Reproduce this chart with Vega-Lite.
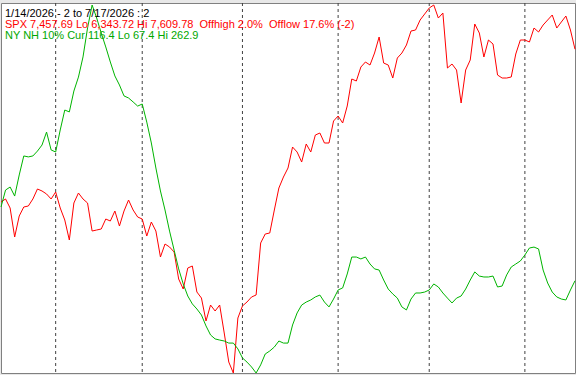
{
  "$schema": "https://vega.github.io/schema/vega-lite/v6.json",
  "width": 574,
  "height": 370,
  "autosize": "none",
  "padding": {"left": 1, "top": 3, "right": 1, "bottom": 2},
  "background": "#e8e8e8",
  "config": {"view": {"fill": "#ffffff", "stroke": "#808080", "strokeWidth": 1}},
  "data": {"values": [
    {"d":0,"spx":6932.0,"nh":155.6},{"d":1,"spx":6942.4,"nh":164.6},{"d":2,"spx":6911.4,"nh":166.2},{"d":3,"spx":6811.6,"nh":161.4},{"d":4,"spx":6883.9,"nh":172.6},{"d":5,"spx":6914.8,"nh":182.7},{"d":6,"spx":6918.3,"nh":182.2},{"d":7,"spx":6942.4,"nh":182.7},{"d":8,"spx":6976.8,"nh":185.3},{"d":9,"spx":6969.9,"nh":188.5},
    {"d":10,"spx":6959.6,"nh":195.4},{"d":11,"spx":6942.4,"nh":185.9},{"d":12,"spx":6966.4,"nh":184.8},{"d":13,"spx":6911.4,"nh":196.5},{"d":14,"spx":6870.1,"nh":207.1},{"d":15,"spx":6801.3,"nh":206.1},{"d":16,"spx":6928.6,"nh":217.2},{"d":17,"spx":6963.0,"nh":224.6},{"d":18,"spx":6942.4,"nh":235.3},{"d":19,"spx":6928.6,"nh":250.7},
    {"d":20,"spx":6832.2,"nh":262.9},{"d":21,"spx":6835.7,"nh":256.0},{"d":22,"spx":6839.1,"nh":248.0},{"d":23,"spx":6873.5,"nh":240.6},{"d":24,"spx":6866.6,"nh":232.6},{"d":25,"spx":6901.0,"nh":225.2},{"d":26,"spx":6849.4,"nh":220.4},{"d":27,"spx":6901.0,"nh":214.6},{"d":28,"spx":6938.9,"nh":213.5},{"d":29,"spx":6904.5,"nh":211.4},
    {"d":30,"spx":6880.4,"nh":209.2},{"d":31,"spx":6873.5,"nh":210.3},{"d":32,"spx":6815.0,"nh":200.7},{"d":33,"spx":6863.2,"nh":189.6},{"d":34,"spx":6832.2,"nh":176.3},{"d":35,"spx":6742.8,"nh":164.1},{"d":36,"spx":6787.5,"nh":154.0},{"d":37,"spx":6777.2,"nh":142.8},{"d":38,"spx":6760.0,"nh":132.7},{"d":39,"spx":6667.1,"nh":122.7},
    {"d":40,"spx":6632.7,"nh":114.7},{"d":41,"spx":6704.9,"nh":108.3},{"d":42,"spx":6711.8,"nh":104.1},{"d":43,"spx":6622.4,"nh":101.4},{"d":44,"spx":6601.7,"nh":98.2},{"d":45,"spx":6522.6,"nh":92.4},{"d":46,"spx":6577.6,"nh":87.6},{"d":47,"spx":6557.0,"nh":85.5},{"d":48,"spx":6577.6,"nh":84.9},{"d":49,"spx":6481.3,"nh":84.4},
    {"d":50,"spx":6381.5,"nh":83.3},{"d":51,"spx":6343.72,"nh":83.3},{"d":52,"spx":6532.9,"nh":80.2},{"d":53,"spx":6574.2,"nh":75.4},{"d":54,"spx":6588.0,"nh":73.2},{"d":55,"spx":6605.2,"nh":70.6},{"d":56,"spx":6612.1,"nh":67.4},{"d":57,"spx":6791.0,"nh":71.7},{"d":58,"spx":6821.9,"nh":77.5},{"d":59,"spx":6825.4,"nh":79.1},
    {"d":60,"spx":6904.5,"nh":81.2},{"d":61,"spx":6980.2,"nh":84.4},{"d":62,"spx":7018.0,"nh":83.3},{"d":63,"spx":7049.0,"nh":83.3},{"d":64,"spx":7121.2,"nh":92.9},{"d":65,"spx":7104.0,"nh":99.3},{"d":66,"spx":7069.6,"nh":103.5},{"d":67,"spx":7131.6,"nh":105.1},{"d":68,"spx":7104.0,"nh":106.2},{"d":69,"spx":7162.5,"nh":107.8},
    {"d":70,"spx":7169.4,"nh":108.8},{"d":71,"spx":7135.0,"nh":105.1},{"d":72,"spx":7135.0,"nh":102.5},{"d":73,"spx":7210.7,"nh":106.7},{"d":74,"spx":7227.9,"nh":111.5},{"d":75,"spx":7203.8,"nh":112.6},{"d":76,"spx":7262.3,"nh":120.0},{"d":77,"spx":7355.2,"nh":129.0},{"d":78,"spx":7348.3,"nh":129.0},{"d":79,"spx":7396.5,"nh":128.0},
    {"d":80,"spx":7413.7,"nh":129.0},{"d":81,"spx":7403.3,"nh":125.3},{"d":82,"spx":7444.6,"nh":122.7},{"d":83,"spx":7499.7,"nh":122.1},{"d":84,"spx":7410.2,"nh":116.8},{"d":85,"spx":7403.3,"nh":112.0},{"d":86,"spx":7358.6,"nh":109.4},{"d":87,"spx":7427.4,"nh":107.2},{"d":88,"spx":7444.6,"nh":102.5},{"d":89,"spx":7472.2,"nh":100.9},
    {"d":90,"spx":7520.3,"nh":106.7},{"d":91,"spx":7523.8,"nh":109.9},{"d":92,"spx":7558.2,"nh":109.9},{"d":93,"spx":7578.8,"nh":110.4},{"d":94,"spx":7599.4,"nh":111.5},{"d":95,"spx":7609.78,"nh":114.7},{"d":96,"spx":7565.0,"nh":113.1},{"d":97,"spx":7582.2,"nh":109.9},{"d":98,"spx":7393.0,"nh":107.2},{"d":99,"spx":7406.8,"nh":104.6},
    {"d":100,"spx":7386.1,"nh":107.2},{"d":101,"spx":7272.6,"nh":108.3},{"d":102,"spx":7386.1,"nh":112.0},{"d":103,"spx":7420.5,"nh":116.8},{"d":104,"spx":7544.4,"nh":121.1},{"d":105,"spx":7513.4,"nh":118.9},{"d":106,"spx":7430.9,"nh":118.4},{"d":107,"spx":7489.4,"nh":118.4},{"d":108,"spx":7475.6,"nh":118.9},{"d":109,"spx":7368.9,"nh":113.1},
    {"d":110,"spx":7358.6,"nh":113.6},{"d":111,"spx":7358.6,"nh":119.5},{"d":112,"spx":7362.1,"nh":123.7},{"d":113,"spx":7441.2,"nh":125.3},{"d":114,"spx":7489.4,"nh":126.9},{"d":115,"spx":7489.4,"nh":130.1},{"d":116,"spx":7482.5,"nh":133.8},{"d":117,"spx":7530.6,"nh":134.3},{"d":118,"spx":7516.9,"nh":133.3},{"d":119,"spx":7541.0,"nh":122.1},
    {"d":120,"spx":7558.2,"nh":115.2},{"d":121,"spx":7575.4,"nh":110.4},{"d":122,"spx":7530.6,"nh":107.8},{"d":123,"spx":7551.3,"nh":106.7},{"d":124,"spx":7571.9,"nh":106.2},{"d":125,"spx":7523.8,"nh":111.5},{"d":126,"spx":7457.69,"nh":116.4}
  ]},
  "layer": [
    {
      "data": {"values": [{"m": 12}, {"m": 31}, {"m": 53}, {"m": 74}, {"m": 94}, {"m": 115}]},
      "mark": {"type": "rule", "color": "#404040", "strokeWidth": 1, "strokeDash": [3, 3]},
      "encoding": {
        "x": {"field": "m", "type": "quantitative", "scale": {"domain": [0, 126], "nice": false, "zero": false}, "axis": null}
      }
    },
    {
      "mark": {"type": "line", "color": "#ff0000", "strokeWidth": 1, "clip": false},
      "encoding": {
        "x": {"field": "d", "type": "quantitative", "scale": {"domain": [0, 126], "nice": false, "zero": false}, "axis": null},
        "y": {"field": "spx", "type": "quantitative", "scale": {"domain": [6343.72, 7616.7], "nice": false, "zero": false}, "axis": null}
      }
    },
    {
      "mark": {"type": "line", "color": "#00b400", "strokeWidth": 1, "clip": false},
      "encoding": {
        "x": {"field": "d", "type": "quantitative", "scale": {"domain": [0, 126], "nice": false, "zero": false}, "axis": null},
        "y": {"field": "nh", "type": "quantitative", "scale": {"domain": [67.4, 263.96], "nice": false, "zero": false}, "axis": null}
      }
    },
    {
      "data": {"values": [
        {"row": 1, "label": "1/14/2026 - 2 to 7/17/2026 : 2", "c": "#000000"},
        {"row": 2, "label": "SPX 7,457.69 Lo 6,343.72 Hi 7,609.78 \u00a0Offhigh 2.0% \u00a0Offlow 17.6% (-2)", "c": "#ff0000"},
        {"row": 3, "label": "NY NH 10% Cur 116.4 Lo 67.4 Hi 262.9", "c": "#00a800"}
      ]},
      "mark": {"type": "text", "align": "left", "baseline": "alphabetic", "font": "Liberation Sans", "fontSize": 11, "x": 4},
      "encoding": {
        "y": {"field": "row", "type": "ordinal", "scale": {"type": "point", "domain": [1, 2, 3], "range": [13.7, 36], "padding": 0}, "axis": null},
        "text": {"field": "label"},
        "color": {"field": "c", "type": "nominal", "scale": null}
      }
    }
  ],
  "resolve": {"scale": {"y": "independent"}}
}
